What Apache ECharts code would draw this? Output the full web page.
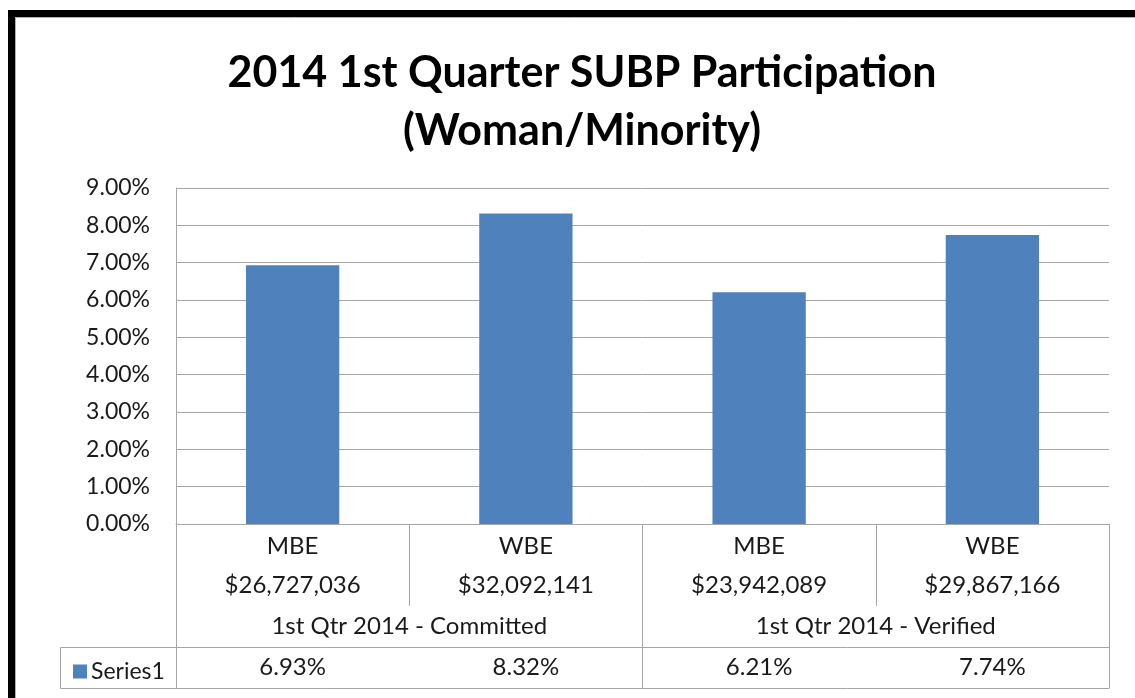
<!DOCTYPE html>
<html>
<head>
<meta charset="utf-8">
<script src="https://cdn.jsdelivr.net/npm/echarts@6/dist/echarts.min.js"></script>
<style>
html,body{margin:0;padding:0;background:#fff;}
#chart{width:1135px;height:698px;}
</style>
</head>
<body>
<div id="chart"></div>
<script>
const titleLines = ['2014 1st Quarter SUBP Participation', '(Woman/Minority)'];
const categories = ['MBE', 'WBE', 'MBE', 'WBE'];
const amounts = ['$26,727,036', '$32,092,141', '$23,942,089', '$29,867,166'];
const groups = ['1st Qtr 2014 - Committed', '1st Qtr 2014 - Verified'];
const seriesName = 'Series1';
const values = [6.93, 8.32, 6.21, 7.74];
const yTicks = [0, 1, 2, 3, 4, 5, 6, 7, 8, 9];

const FONT = 'Lato, "Open Sans", sans-serif';
const LINE = '#a6a6a6';
const TXT = '#1a1a1a';
const BLUE = '#4f81bd';

const chart = echarts.init(document.getElementById('chart'), null, {renderer: 'canvas'});

const gridLeft = 176, gridRight = 1109, gridTop = 188, gridBottom = 524;
const rowSep = 647, tableBottom = 688, legendLeft = 60;

const option = {
  animation: false,
  backgroundColor: '#fff',
  textStyle: {fontFamily: FONT},
  title: {
    text: titleLines.join('\n'),
    left: 577,
    top: 39,
    textAlign: 'center',
    textStyle: {fontFamily: FONT, fontWeight: 'bold', fontSize: 43, lineHeight: 58, color: '#000'}
  },
  legend: {
    data: [seriesName],
    left: 68,
    top: 655,
    icon: 'rect',
    itemWidth: 14,
    itemHeight: 14,
    itemGap: 6,
    textStyle: {fontFamily: FONT, fontSize: 23, color: TXT, padding: [0, 0, 0, -1]},
    selectedMode: false
  },
  grid: {left: gridLeft, right: 1135 - gridRight, top: gridTop, bottom: 698 - gridBottom, containLabel: false},
  xAxis: [
    {
      type: 'category',
      data: categories,
      position: 'bottom',
      axisLine: {show: true, lineStyle: {color: LINE, width: 1}},
      axisTick: {show: true, inside: false, length: 82, alignWithLabel: false, lineStyle: {color: LINE, width: 1}},
      axisLabel: {
        margin: 3,
        interval: 0,
        formatter: (v, i) => '{a|' + v + '}\n{b|' + amounts[i] + '}',
        rich: {
          a: {fontFamily: FONT, fontSize: 24, color: TXT, lineHeight: 39, align: 'center'},
          b: {fontFamily: FONT, fontSize: 24, color: TXT, lineHeight: 39, align: 'center'}
        }
      }
    },
    {
      type: 'category',
      data: groups,
      position: 'bottom',
      gridIndex: 0,
      axisLine: {show: false},
      axisTick: {show: true, inside: false, length: tableBottom - gridBottom, alignWithLabel: false, lineStyle: {color: LINE, width: 1}},
      axisLabel: {margin: 90, interval: 0, fontFamily: FONT, fontSize: 24, color: TXT}
    },
    {
      type: 'category',
      data: values.map(v => v.toFixed(2) + '%'),
      position: 'bottom',
      gridIndex: 0,
      axisLine: {show: false},
      axisTick: {show: false},
      axisLabel: {margin: 131, interval: 0, fontFamily: FONT, fontSize: 24, color: TXT}
    }
  ],
  yAxis: {
    type: 'value',
    min: yTicks[0],
    max: yTicks[yTicks.length - 1],
    interval: 1,
    axisLine: {show: true, lineStyle: {color: LINE, width: 1}},
    axisTick: {show: false},
    axisLabel: {margin: 26, fontFamily: FONT, fontSize: 23, color: TXT, formatter: v => v.toFixed(2) + '%'},
    splitLine: {show: true, lineStyle: {color: LINE, width: 1}}
  },
  series: [{
    name: seriesName,
    type: 'bar',
    xAxisIndex: 0,
    data: values,
    barWidth: '40%',
    itemStyle: {color: BLUE}
  }],
  graphic: []
};

chart.setOption(option);

const lines = [
  [legendLeft, rowSep, gridRight, rowSep],
  [legendLeft, tableBottom, gridRight, tableBottom],
  [legendLeft, rowSep, legendLeft, tableBottom]
];
const g = lines.map(l => ({
  type: 'line',
  shape: {x1: l[0] + 0.5, y1: l[1] + 0.5, x2: l[2] + 0.5, y2: l[3] + 0.5},
  style: {stroke: LINE, lineWidth: 1},
  z: 10
}));
g.push({
  type: 'rect',
  shape: {x: 11.5, y: 13.5, width: 1400, height: 1000},
  style: {fill: null, stroke: '#000', lineWidth: 7},
  z: 20
});
g.push({
  type: 'rect',
  shape: {x: 15.5, y: 17.5, width: 1400, height: 1000},
  style: {fill: null, stroke: '#b0b0b0', lineWidth: 1},
  z: 20
});
chart.setOption({graphic: g});
</script>
</body>
</html>
